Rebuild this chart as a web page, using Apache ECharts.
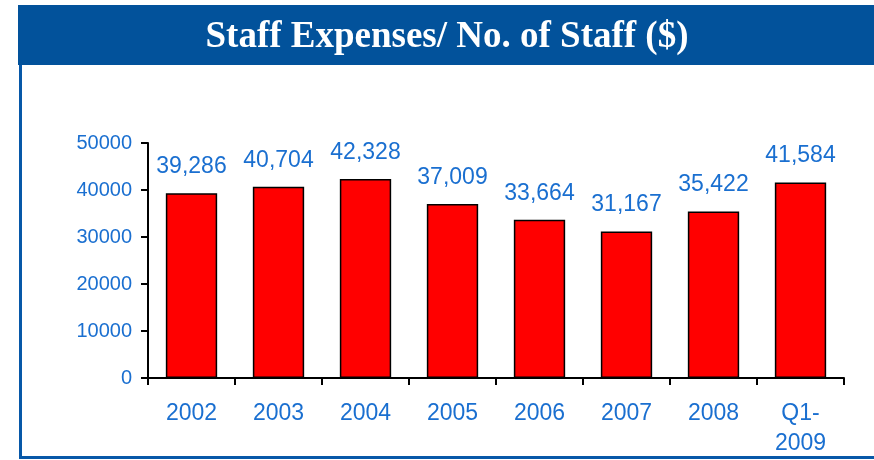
<!DOCTYPE html>
<html>
<head>
<meta charset="utf-8">
<script src="https://cdn.jsdelivr.net/npm/echarts@6/dist/echarts.min.js"></script>
<style>
  html, body { margin: 0; padding: 0; background: #fff; }
  #main { width: 874px; height: 460px; }
</style>
</head>
<body>
<div id="main"></div>
<script>
// data
var years = ["2002", "2003", "2004", "2005", "2006", "2007", "2008", "Q1-\n2009"];
var costPerStaff = [39286, 40704, 42328, 37009, 33664, 31167, 35422, 41584];
var yTicks = [0, 10000, 20000, 30000, 40000, 50000];

var blueText = "#1a6fd0";
var chart = echarts.init(document.getElementById("main"));

chart.setOption({
  animation: false,
  backgroundColor: "#fff",
  graphic: [
    {
      type: "rect",
      shape: { x: 18, y: 5, width: 860, height: 60 },
      style: { fill: "#02529b" }
    },
    {
      type: "text",
      x: 447, y: 37,
      style: {
        text: "Staff Expenses/ No. of Staff ($)",
        fill: "#fff",
        font: "bold 37px 'Liberation Serif', serif",
        align: "center",
        verticalAlign: "middle"
      }
    },
    {
      type: "rect",
      shape: { x: 19, y: 65, width: 3, height: 394 },
      style: { fill: "#0758a8" }
    },
    {
      type: "rect",
      shape: { x: 19, y: 456, width: 860, height: 3 },
      style: { fill: "#0758a8" }
    }
  ],
  grid: { left: 148, right: 30, top: 143, bottom: 82 },
  xAxis: {
    type: "category",
    data: years,
    axisLine: { lineStyle: { color: "#000", width: 2 } },
    axisTick: { show: true, length: 7, lineStyle: { color: "#000", width: 2 } },
    axisLabel: {
      color: blueText,
      fontSize: 23,
      fontFamily: "Liberation Sans, Arial",
      margin: 21,
      lineHeight: 30
    }
  },
  yAxis: {
    type: "value",
    min: yTicks[0],
    max: yTicks[yTicks.length - 1],
    interval: 10000,
    splitLine: { show: false },
    axisLine: { show: true, lineStyle: { color: "#000", width: 2 } },
    axisTick: { show: true, length: 7, lineStyle: { color: "#000", width: 2 } },
    axisLabel: {
      color: blueText,
      fontSize: 20,
      fontFamily: "Liberation Sans, Arial",
      margin: 16,
      formatter: function (v) { return String(v); }
    }
  },
  series: [
    {
      type: "bar",
      data: costPerStaff,
      barWidth: "59%",
      itemStyle: { color: "#ff0000", borderColor: "#000", borderWidth: 1.5 },
      label: {
        show: true,
        position: "top",
        distance: 15,
        color: blueText,
        fontSize: 23,
        fontFamily: "Liberation Sans, Arial",
        formatter: function (p) { return p.value.toLocaleString("en-US"); }
      }
    }
  ]
});
</script>
</body>
</html>
